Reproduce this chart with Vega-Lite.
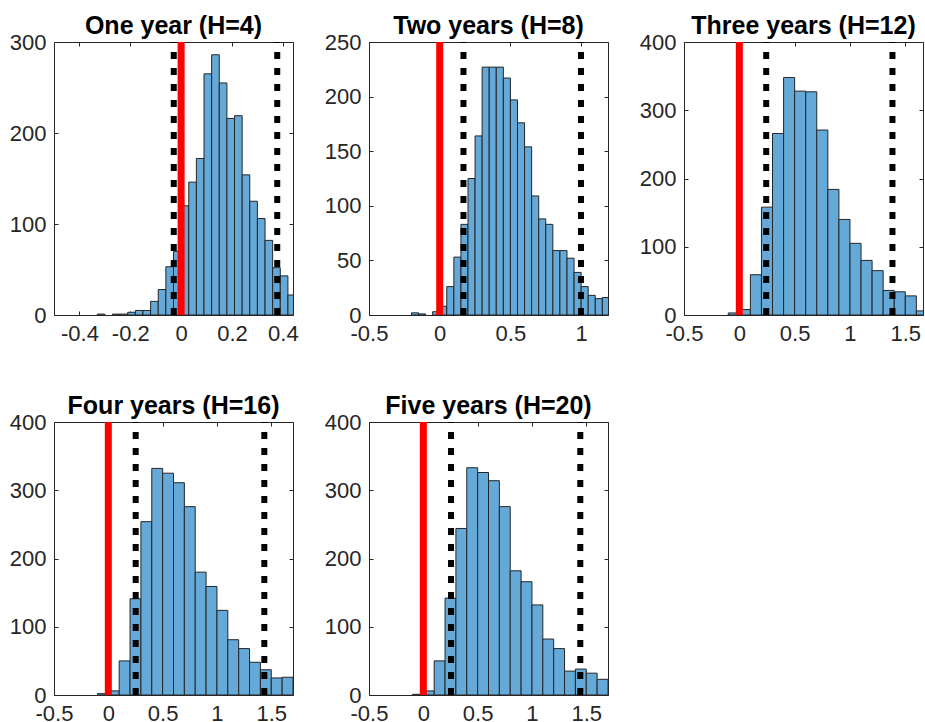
{
  "$schema": "https://vega.github.io/schema/vega-lite/v6.json",
  "background": "white",
  "padding": {"left": 8, "top": 13, "right": 0, "bottom": 0},
  "bounds": "flush",
  "columns": 3,
  "spacing": {"row": 107, "column": 76},
  "config": {
    "view": {"stroke": "#262626", "strokeWidth": 1},
    "axis": {"grid": false, "domain": false, "tickSize": -4, "tickColor": "#262626", "tickWidth": 1, "labelColor": "#262626", "labelFont": "Liberation Sans", "labelFontSize": 22, "labelPadding": 12, "labelFlush": false, "labelOverlap": false, "labelBound": false, "title": null},
    "title": {"font": "Liberation Sans", "fontSize": 25, "fontWeight": "bold", "color": "#000000", "offset": -8, "anchor": "middle"}
  },
  "datasets": {
    "p1": [
      {"x0": -0.33, "x1": -0.30, "n": 1}, {"x0": -0.27, "x1": -0.24, "n": 1}, {"x0": -0.24, "x1": -0.21, "n": 1},
      {"x0": -0.21, "x1": -0.18, "n": 3}, {"x0": -0.18, "x1": -0.15, "n": 5}, {"x0": -0.15, "x1": -0.12, "n": 5},
      {"x0": -0.12, "x1": -0.09, "n": 15}, {"x0": -0.09, "x1": -0.06, "n": 28}, {"x0": -0.06, "x1": -0.03, "n": 53},
      {"x0": -0.03, "x1": 0.0, "n": 70}, {"x0": 0.0, "x1": 0.03, "n": 120}, {"x0": 0.03, "x1": 0.06, "n": 146},
      {"x0": 0.06, "x1": 0.09, "n": 172}, {"x0": 0.09, "x1": 0.12, "n": 265}, {"x0": 0.12, "x1": 0.15, "n": 286},
      {"x0": 0.15, "x1": 0.18, "n": 255}, {"x0": 0.18, "x1": 0.21, "n": 216}, {"x0": 0.21, "x1": 0.24, "n": 219},
      {"x0": 0.24, "x1": 0.27, "n": 154}, {"x0": 0.27, "x1": 0.30, "n": 125}, {"x0": 0.30, "x1": 0.33, "n": 106},
      {"x0": 0.33, "x1": 0.36, "n": 82}, {"x0": 0.36, "x1": 0.39, "n": 52}, {"x0": 0.39, "x1": 0.42, "n": 43},
      {"x0": 0.42, "x1": 0.45, "n": 22}
    ],
    "p2": [
      {"x0": -0.20, "x1": -0.15, "n": 2}, {"x0": -0.15, "x1": -0.10, "n": 1}, {"x0": -0.05, "x1": 0.0, "n": 3},
      {"x0": 0.0, "x1": 0.05, "n": 8}, {"x0": 0.05, "x1": 0.10, "n": 26}, {"x0": 0.10, "x1": 0.15, "n": 53},
      {"x0": 0.15, "x1": 0.20, "n": 83}, {"x0": 0.20, "x1": 0.25, "n": 125}, {"x0": 0.25, "x1": 0.30, "n": 164},
      {"x0": 0.30, "x1": 0.35, "n": 227}, {"x0": 0.35, "x1": 0.40, "n": 227}, {"x0": 0.40, "x1": 0.45, "n": 227},
      {"x0": 0.45, "x1": 0.50, "n": 217}, {"x0": 0.50, "x1": 0.55, "n": 197}, {"x0": 0.55, "x1": 0.60, "n": 176},
      {"x0": 0.60, "x1": 0.65, "n": 154}, {"x0": 0.65, "x1": 0.70, "n": 109}, {"x0": 0.70, "x1": 0.75, "n": 88},
      {"x0": 0.75, "x1": 0.80, "n": 83}, {"x0": 0.80, "x1": 0.85, "n": 59}, {"x0": 0.85, "x1": 0.90, "n": 59},
      {"x0": 0.90, "x1": 0.95, "n": 52}, {"x0": 0.95, "x1": 1.00, "n": 39}, {"x0": 1.00, "x1": 1.05, "n": 26},
      {"x0": 1.05, "x1": 1.10, "n": 18}, {"x0": 1.10, "x1": 1.15, "n": 15}, {"x0": 1.15, "x1": 1.20, "n": 16}
    ],
    "p3": [
      {"x0": -0.1, "x1": 0.0, "n": 3}, {"x0": 0.0, "x1": 0.1, "n": 8}, {"x0": 0.1, "x1": 0.2, "n": 59},
      {"x0": 0.2, "x1": 0.3, "n": 158}, {"x0": 0.3, "x1": 0.4, "n": 266}, {"x0": 0.4, "x1": 0.5, "n": 348},
      {"x0": 0.5, "x1": 0.6, "n": 328}, {"x0": 0.6, "x1": 0.7, "n": 327}, {"x0": 0.7, "x1": 0.8, "n": 271},
      {"x0": 0.8, "x1": 0.9, "n": 184}, {"x0": 0.9, "x1": 1.0, "n": 140}, {"x0": 1.0, "x1": 1.1, "n": 105},
      {"x0": 1.1, "x1": 1.2, "n": 80}, {"x0": 1.2, "x1": 1.3, "n": 65}, {"x0": 1.3, "x1": 1.4, "n": 36},
      {"x0": 1.4, "x1": 1.5, "n": 34}, {"x0": 1.5, "x1": 1.6, "n": 28}, {"x0": 1.6, "x1": 1.7, "n": 6}
    ],
    "p4": [
      {"x0": -0.1, "x1": 0.0, "n": 2}, {"x0": 0.0, "x1": 0.1, "n": 6}, {"x0": 0.1, "x1": 0.2, "n": 50},
      {"x0": 0.2, "x1": 0.3, "n": 141}, {"x0": 0.3, "x1": 0.4, "n": 254}, {"x0": 0.4, "x1": 0.5, "n": 332},
      {"x0": 0.5, "x1": 0.6, "n": 325}, {"x0": 0.6, "x1": 0.7, "n": 311}, {"x0": 0.7, "x1": 0.8, "n": 276},
      {"x0": 0.8, "x1": 0.9, "n": 180}, {"x0": 0.9, "x1": 1.0, "n": 159}, {"x0": 1.0, "x1": 1.1, "n": 124},
      {"x0": 1.1, "x1": 1.2, "n": 81}, {"x0": 1.2, "x1": 1.3, "n": 68}, {"x0": 1.3, "x1": 1.4, "n": 48},
      {"x0": 1.4, "x1": 1.5, "n": 37}, {"x0": 1.5, "x1": 1.6, "n": 25}, {"x0": 1.6, "x1": 1.7, "n": 26}
    ],
    "p5": [
      {"x0": -0.1, "x1": 0.0, "n": 1}, {"x0": 0.0, "x1": 0.1, "n": 6}, {"x0": 0.1, "x1": 0.2, "n": 50},
      {"x0": 0.2, "x1": 0.3, "n": 142}, {"x0": 0.3, "x1": 0.4, "n": 244}, {"x0": 0.4, "x1": 0.5, "n": 333},
      {"x0": 0.5, "x1": 0.6, "n": 326}, {"x0": 0.6, "x1": 0.7, "n": 314}, {"x0": 0.7, "x1": 0.8, "n": 276},
      {"x0": 0.8, "x1": 0.9, "n": 182}, {"x0": 0.9, "x1": 1.0, "n": 166}, {"x0": 1.0, "x1": 1.1, "n": 132},
      {"x0": 1.1, "x1": 1.2, "n": 82}, {"x0": 1.2, "x1": 1.3, "n": 68}, {"x0": 1.3, "x1": 1.4, "n": 35},
      {"x0": 1.4, "x1": 1.5, "n": 38}, {"x0": 1.5, "x1": 1.6, "n": 32}, {"x0": 1.6, "x1": 1.7, "n": 23}
    ],
    "l1": [{"v": -0.029}, {"v": 0.378}],
    "l2": [{"v": 0.168}, {"v": 0.999}],
    "l3": [{"v": 0.243}, {"v": 1.384}],
    "l4": [{"v": 0.252}, {"v": 1.436}],
    "l5": [{"v": 0.255}, {"v": 1.445}],
    "zero": [{"v": 0}]
  },
  "concat": [
    {
      "title": "One year (H=4)",
      "width": 239, "height": 273,
      "resolve": {"axis": {"x": "independent", "y": "independent"}},
      "layer": [
        {"data": {"name": "p1"}, "mark": {"type": "rect", "fill": "#64a9d7", "stroke": "#262626", "strokeWidth": 1, "clip": true},
         "encoding": {
           "x": {"field": "x0", "type": "quantitative", "scale": {"domain": [-0.5, 0.44], "nice": false, "zero": false}, "axis": {"orient": "bottom", "values": [-0.4, -0.2, 0, 0.2, 0.4], "labelExpr": "toString(datum.value)"}},
           "x2": {"field": "x1"},
           "y": {"field": "n", "type": "quantitative", "scale": {"domain": [0, 300], "nice": false}, "axis": {"orient": "left", "values": [0, 100, 200, 300], "labelExpr": "toString(datum.value)"}},
           "y2": {"datum": 0}}},
        {"data": {"name": "zero"}, "mark": {"type": "rule", "color": "#ff0000", "strokeWidth": 7},
         "encoding": {"x": {"field": "v", "type": "quantitative", "axis": {"orient": "top", "values": [-0.4, -0.2, 0, 0.2, 0.4], "labels": false}},
           "y": {"datum": 0, "type": "quantitative", "axis": {"orient": "right", "values": [0, 100, 200, 300], "labels": false}}, "y2": {"datum": 300}}},
        {"data": {"name": "l1"}, "mark": {"type": "rule", "color": "#000000", "strokeWidth": 6, "strokeDash": [7, 9]},
         "encoding": {"x": {"field": "v", "type": "quantitative", "axis": null}, "y": {"datum": 0, "type": "quantitative", "axis": null}, "y2": {"datum": 300}}}
      ]
    },
    {
      "title": "Two years (H=8)",
      "width": 239, "height": 273,
      "resolve": {"axis": {"x": "independent", "y": "independent"}},
      "layer": [
        {"data": {"name": "p2"}, "mark": {"type": "rect", "fill": "#64a9d7", "stroke": "#262626", "strokeWidth": 1, "clip": true},
         "encoding": {
           "x": {"field": "x0", "type": "quantitative", "scale": {"domain": [-0.5, 1.19], "nice": false, "zero": false}, "axis": {"orient": "bottom", "values": [-0.5, 0, 0.5, 1], "labelExpr": "toString(datum.value)"}},
           "x2": {"field": "x1"},
           "y": {"field": "n", "type": "quantitative", "scale": {"domain": [0, 250], "nice": false}, "axis": {"orient": "left", "values": [0, 50, 100, 150, 200, 250], "labelExpr": "toString(datum.value)"}},
           "y2": {"datum": 0}}},
        {"data": {"name": "zero"}, "mark": {"type": "rule", "color": "#ff0000", "strokeWidth": 7},
         "encoding": {"x": {"field": "v", "type": "quantitative", "axis": {"orient": "top", "values": [-0.5, 0, 0.5, 1], "labels": false}},
           "y": {"datum": 0, "type": "quantitative", "axis": {"orient": "right", "values": [0, 50, 100, 150, 200, 250], "labels": false}}, "y2": {"datum": 250}}},
        {"data": {"name": "l2"}, "mark": {"type": "rule", "color": "#000000", "strokeWidth": 6, "strokeDash": [7, 9]},
         "encoding": {"x": {"field": "v", "type": "quantitative", "axis": null}, "y": {"datum": 0, "type": "quantitative", "axis": null}, "y2": {"datum": 250}}}
      ]
    },
    {
      "title": "Three years (H=12)",
      "width": 239, "height": 273,
      "resolve": {"axis": {"x": "independent", "y": "independent"}},
      "layer": [
        {"data": {"name": "p3"}, "mark": {"type": "rect", "fill": "#64a9d7", "stroke": "#262626", "strokeWidth": 1, "clip": true},
         "encoding": {
           "x": {"field": "x0", "type": "quantitative", "scale": {"domain": [-0.5, 1.66], "nice": false, "zero": false}, "axis": {"orient": "bottom", "values": [-0.5, 0, 0.5, 1, 1.5], "labelExpr": "toString(datum.value)"}},
           "x2": {"field": "x1"},
           "y": {"field": "n", "type": "quantitative", "scale": {"domain": [0, 400], "nice": false}, "axis": {"orient": "left", "values": [0, 100, 200, 300, 400], "labelExpr": "toString(datum.value)"}},
           "y2": {"datum": 0}}},
        {"data": {"name": "zero"}, "mark": {"type": "rule", "color": "#ff0000", "strokeWidth": 7},
         "encoding": {"x": {"field": "v", "type": "quantitative", "axis": {"orient": "top", "values": [-0.5, 0, 0.5, 1, 1.5], "labels": false}},
           "y": {"datum": 0, "type": "quantitative", "axis": {"orient": "right", "values": [0, 100, 200, 300, 400], "labels": false}}, "y2": {"datum": 400}}},
        {"data": {"name": "l3"}, "mark": {"type": "rule", "color": "#000000", "strokeWidth": 6, "strokeDash": [7, 9]},
         "encoding": {"x": {"field": "v", "type": "quantitative", "axis": null}, "y": {"datum": 0, "type": "quantitative", "axis": null}, "y2": {"datum": 400}}}
      ]
    },
    {
      "title": "Four years (H=16)",
      "width": 239, "height": 273,
      "resolve": {"axis": {"x": "independent", "y": "independent"}},
      "layer": [
        {"data": {"name": "p4"}, "mark": {"type": "rect", "fill": "#64a9d7", "stroke": "#262626", "strokeWidth": 1, "clip": true},
         "encoding": {
           "x": {"field": "x0", "type": "quantitative", "scale": {"domain": [-0.5, 1.7], "nice": false, "zero": false}, "axis": {"orient": "bottom", "values": [-0.5, 0, 0.5, 1, 1.5], "labelExpr": "toString(datum.value)"}},
           "x2": {"field": "x1"},
           "y": {"field": "n", "type": "quantitative", "scale": {"domain": [0, 400], "nice": false}, "axis": {"orient": "left", "values": [0, 100, 200, 300, 400], "labelExpr": "toString(datum.value)"}},
           "y2": {"datum": 0}}},
        {"data": {"name": "zero"}, "mark": {"type": "rule", "color": "#ff0000", "strokeWidth": 7},
         "encoding": {"x": {"field": "v", "type": "quantitative", "axis": {"orient": "top", "values": [-0.5, 0, 0.5, 1, 1.5], "labels": false}},
           "y": {"datum": 0, "type": "quantitative", "axis": {"orient": "right", "values": [0, 100, 200, 300, 400], "labels": false}}, "y2": {"datum": 400}}},
        {"data": {"name": "l4"}, "mark": {"type": "rule", "color": "#000000", "strokeWidth": 6, "strokeDash": [7, 9]},
         "encoding": {"x": {"field": "v", "type": "quantitative", "axis": null}, "y": {"datum": 0, "type": "quantitative", "axis": null}, "y2": {"datum": 400}}}
      ]
    },
    {
      "title": "Five years (H=20)",
      "width": 239, "height": 273,
      "resolve": {"axis": {"x": "independent", "y": "independent"}},
      "layer": [
        {"data": {"name": "p5"}, "mark": {"type": "rect", "fill": "#64a9d7", "stroke": "#262626", "strokeWidth": 1, "clip": true},
         "encoding": {
           "x": {"field": "x0", "type": "quantitative", "scale": {"domain": [-0.5, 1.7], "nice": false, "zero": false}, "axis": {"orient": "bottom", "values": [-0.5, 0, 0.5, 1, 1.5], "labelExpr": "toString(datum.value)"}},
           "x2": {"field": "x1"},
           "y": {"field": "n", "type": "quantitative", "scale": {"domain": [0, 400], "nice": false}, "axis": {"orient": "left", "values": [0, 100, 200, 300, 400], "labelExpr": "toString(datum.value)"}},
           "y2": {"datum": 0}}},
        {"data": {"name": "zero"}, "mark": {"type": "rule", "color": "#ff0000", "strokeWidth": 7},
         "encoding": {"x": {"field": "v", "type": "quantitative", "axis": {"orient": "top", "values": [-0.5, 0, 0.5, 1, 1.5], "labels": false}},
           "y": {"datum": 0, "type": "quantitative", "axis": {"orient": "right", "values": [0, 100, 200, 300, 400], "labels": false}}, "y2": {"datum": 400}}},
        {"data": {"name": "l5"}, "mark": {"type": "rule", "color": "#000000", "strokeWidth": 6, "strokeDash": [7, 9]},
         "encoding": {"x": {"field": "v", "type": "quantitative", "axis": null}, "y": {"datum": 0, "type": "quantitative", "axis": null}, "y2": {"datum": 400}}}
      ]
    }
  ]
}
